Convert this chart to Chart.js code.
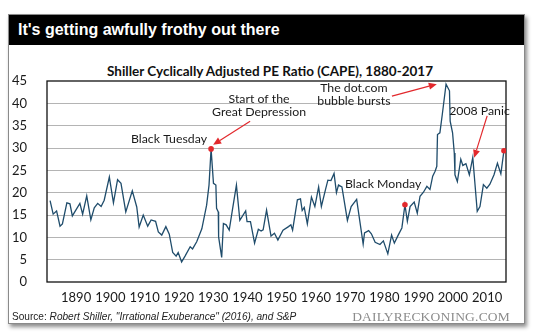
<!DOCTYPE html>
<html>
<head>
<meta charset="utf-8">
<script src="https://cdn.jsdelivr.net/npm/chart.js@4.4.1/dist/chart.umd.min.js"></script>
<style>
    html, body { margin: 0; padding: 0; background: #fff; }
    body { width: 540px; height: 334px; position: relative; overflow: hidden; }
    .card {
        position: absolute; left: 8px; top: 14px; width: 515px; height: 308px;
        border: 1px solid #8a8a8a; background: #fff;
        box-shadow: 2px 3px 4px rgba(0, 0, 0, 0.45);
    }
    .header {
        position: absolute; left: 0; top: 0; right: 0; height: 30px;
        background: #000; color: #fff;
        font: bold 16px "Liberation Sans", Arial, sans-serif;
        line-height: 30px; padding-left: 9px;
    }
    .chart-title {
        position: absolute; left: 0; width: 540px; top: 62px; text-align: center;
        font: bold 13.5px Lato, "Open Sans", sans-serif; color: #111; line-height: 18px;
    }
    #cape-chart { position: absolute; left: 0; top: 50px; }
    .source {
        position: absolute; left: 12px; top: 311px;
        font: 10.1px "Liberation Sans", Arial, sans-serif; color: #222;
    }
    .source i { font-style: italic; }
    .brand {
        position: absolute; right: 30px; top: 309px;
        font: 13.5px "Liberation Serif", "DejaVu Serif", serif; color: #8c8c8c;
        letter-spacing: 0.2px;
    }
</style>
</head>
<body>
<div class="card"><div class="header">It's getting awfully frothy out there</div></div>
<div class="chart-title">Shiller Cyclically Adjusted PE Ratio (CAPE), 1880-2017</div>
<canvas id="cape-chart" width="540" height="262"></canvas>
<div class="source">Source: <i>Robert Shiller, "Irrational Exuberance" (2016), and S&amp;P</i></div>
<div class="brand">DAILYRECKONING.COM</div>

<script>
// CAPE readings (fractional year, ratio)
const years = [1882.4, 1883.3, 1884.3, 1885.3, 1886.0, 1887.3, 1888.2, 1888.9, 1891.1, 1891.9,
    1893.1, 1894.3, 1895.3, 1896.3, 1897.3, 1898.2, 1899.7, 1900.9, 1902.1, 1903.1,
    1904.5, 1906.4, 1907.7, 1908.4, 1909.6, 1910.9, 1911.9, 1913.2, 1914.0, 1915.0,
    1916.2, 1917.2, 1918.2, 1919.2, 1919.8, 1920.8, 1921.8, 1923.3, 1924.0, 1925.2,
    1926.7, 1928.1, 1928.8, 1929.4, 1930.1, 1930.8, 1931.0, 1931.5, 1931.6, 1932.5,
    1933.0, 1933.8, 1934.7, 1935.7, 1936.8, 1937.8, 1939.5, 1939.9, 1940.9, 1942.1,
    1943.2, 1944.0, 1944.6, 1945.6, 1946.9, 1947.9, 1948.9, 1950.4, 1952.0, 1952.7,
    1953.2, 1954.6, 1955.5, 1956.0, 1956.6, 1957.5, 1958.7, 1959.7, 1960.8, 1961.6,
    1962.8, 1963.5, 1964.4, 1965.3, 1966.0, 1966.6, 1967.6, 1969.2, 1970.3, 1971.9,
    1973.8, 1974.2, 1975.4, 1976.2, 1977.3, 1978.7, 1979.7, 1981.0, 1982.1, 1982.9,
    1984.1, 1985.1, 1986.0, 1986.7, 1987.5, 1988.7, 1989.6, 1990.4, 1991.4, 1992.4,
    1993.3, 1994.1, 1994.8, 1995.3, 1995.5, 1996.2, 1996.9, 1998.0, 1999.0, 1999.2,
    1999.9, 2000.4, 2000.6, 2001.3, 2002.3, 2002.9, 2003.8, 2004.8, 2005.8, 2007.1,
    2007.9, 2008.9, 2009.9, 2010.8, 2012.0, 2013.0, 2014.0, 2014.9];

const cape = [18.2, 15.2, 15.9, 12.5, 13.0, 17.7, 17.5, 14.8, 17.6, 15.2,
    19.3, 13.9, 16.6, 17.6, 16.9, 18.3, 23.5, 17.7, 22.9, 22.1,
    15.7, 20.4, 16.8, 12.3, 15.0, 12.5, 13.9, 13.6, 11.2, 10.5,
    12.4, 10.7, 6.6, 5.8, 6.6, 4.5, 5.8, 7.9, 7.4, 9.0,
    11.9, 17.2, 21.7, 29.8, 22.1, 21.7, 16.5, 15.7, 10.1, 5.5,
    13.1, 12.8, 11.6, 16.5, 21.7, 13.8, 15.9, 13.5, 13.5, 8.7,
    11.8, 11.4, 11.7, 16.1, 10.3, 10.9, 9.4, 11.6, 12.4, 12.8,
    11.6, 18.4, 18.6, 16.0, 16.7, 13.0, 19.0, 16.9, 21.3, 16.9,
    20.7, 22.8, 22.7, 24.3, 20.0, 21.7, 21.3, 13.8, 16.9, 18.5,
    8.5, 11.0, 11.5, 10.8, 8.9, 8.4, 9.2, 6.3, 10.5, 8.7,
    10.6, 12.1, 17.3, 13.6, 16.9, 17.9, 15.4, 19.2, 20.1, 21.4,
    20.7, 23.7, 24.8, 25.9, 33.0, 33.4, 37.5, 44.3, 42.8, 36.0,
    33.4, 28.9, 24.0, 22.5, 27.5, 26.1, 26.5, 24.0, 27.9, 15.8,
    16.9, 21.8, 21.0, 21.9, 24.0, 26.6, 24.2, 29.4];

// red dots: 1929 top, 1987 crash, latest reading
const highlightYears = [1929.4, 1986.0, 2014.9];

const xTicks = [1890, 1900, 1910, 1920, 1930, 1940, 1950, 1960, 1970, 1980, 1990, 2000, 2010];
const yTicks = [0, 5, 10, 15, 20, 25, 30, 35, 40, 45];

document.addEventListener('DOMContentLoaded', function() {
    const lineColor = '#1f4c6b';
    const red = '#e2282c';
    const font = 'Lato, "Open Sans", sans-serif';

    const points = years.map((yr, i) => ({ x: yr, y: cape[i] }));
    const dots = highlightYears.map(yr => ({ x: yr, y: cape[years.indexOf(yr)] }));

    // text notes and arrows, placed in data units
    const notes = [
        { lines: ['Black Tuesday'], x: 1928.2, y: 32.0, align: 'right' },
        { lines: ['Start of the', 'Great Depression'], x: 1943.4, y: 41.0, align: 'center' },
        { lines: ['The dot.com', 'bubble bursts'], x: 1971.1, y: 43.4, align: 'center' },
        { lines: ['2008 Panic'], x: 1998.9, y: 38.3, align: 'left' },
        { lines: ['Black Monday'], x: 1968.5, y: 21.9, align: 'left' }
    ];
    const arrows = [
        { from: [1940.8, 36.0], to: [1930.0, 30.7] },
        { from: [1982.2, 41.6], to: [1995.3, 44.3] },
        { from: [2010.0, 37.2], to: [2006.2, 27.8] }
    ];

    const framePlugin = {
        id: 'frame',
        beforeDatasetsDraw(chart) {
            const a = chart.chartArea;
            const c = chart.ctx;
            c.save();
            c.strokeStyle = '#111';
            c.lineWidth = 1.3;
            c.strokeRect(a.left, a.top, a.right - a.left, a.bottom - a.top);
            c.restore();
        },
        afterDatasetsDraw(chart) {
            const c = chart.ctx;
            const xs = chart.scales.x;
            const ys = chart.scales.y;
            c.save();
            c.fillStyle = '#1a1a1a';
            c.font = '12.3px ' + font;
            c.textBaseline = 'middle';
            notes.forEach(n => {
                c.textAlign = n.align;
                const px = xs.getPixelForValue(n.x);
                const py = ys.getPixelForValue(n.y);
                n.lines.forEach((t, i) => c.fillText(t, px, py + i * 13));
            });
            c.strokeStyle = red;
            c.fillStyle = red;
            c.lineWidth = 1.2;
            arrows.forEach(ar => {
                const x1 = xs.getPixelForValue(ar.from[0]), y1 = ys.getPixelForValue(ar.from[1]);
                const x2 = xs.getPixelForValue(ar.to[0]), y2 = ys.getPixelForValue(ar.to[1]);
                const ang = Math.atan2(y2 - y1, x2 - x1);
                const len = 8, half = 3.5;
                const bx = x2 - len * Math.cos(ang), by = y2 - len * Math.sin(ang);
                c.beginPath();
                c.moveTo(x1, y1);
                c.lineTo(bx, by);
                c.stroke();
                c.beginPath();
                c.moveTo(x2, y2);
                c.lineTo(bx + half * Math.sin(ang), by - half * Math.cos(ang));
                c.lineTo(bx - half * Math.sin(ang), by + half * Math.cos(ang));
                c.closePath();
                c.fill();
            });
            c.restore();
        }
    };

    const ctx = document.getElementById('cape-chart');
    new Chart(ctx, {
        type: 'line',
        data: {
            datasets: [{
                type: 'scatter',
                data: dots,
                pointRadius: 2.8,
                pointBackgroundColor: red,
                pointBorderWidth: 0,
                order: 0
            }, {
                data: points,
                borderColor: lineColor,
                borderWidth: 1.3,
                pointRadius: 0,
                tension: 0,
                fill: false,
                order: 1
            }]
        },
        options: {
            responsive: false,
            animation: false,
            layout: { padding: { left: 0, right: 34, top: 31, bottom: 0 } },
            plugins: {
                legend: { display: false },
                tooltip: { enabled: false },
                title: { display: false }
            },
            scales: {
                x: {
                    type: 'linear',
                    min: 1881.5,
                    max: 2015.5,
                    afterBuildTicks: function(scale) {
                        scale.ticks = xTicks.map(v => ({ value: v }));
                    },
                    afterFit: function(scale) { scale.height = 30; },
                    grid: { display: false, drawTicks: false },
                    border: { display: false },
                    ticks: {
                        color: '#1a1a1a',
                        font: { family: font, size: 13 },
                        padding: 8,
                        maxRotation: 0,
                        autoSkip: false,
                        callback: function(value) { return String(value); }
                    }
                },
                y: {
                    min: 0,
                    max: 45,
                    afterBuildTicks: function(scale) {
                        scale.ticks = yTicks.map(v => ({ value: v }));
                    },
                    afterFit: function(scale) { scale.width = 47; },
                    grid: {
                        drawTicks: false,
                        color: function(c) {
                            return (c.tick && (c.tick.value === 0 || c.tick.value === 45)) ? 'rgba(0,0,0,0)' : '#b4b4b4';
                        },
                        lineWidth: 1
                    },
                    border: { display: false },
                    ticks: {
                        color: '#1a1a1a',
                        font: { family: font, size: 13 },
                        padding: 20,
                        autoSkip: false
                    }
                }
            }
        },
        plugins: [framePlugin]
    });
});
</script>
</body>
</html>
